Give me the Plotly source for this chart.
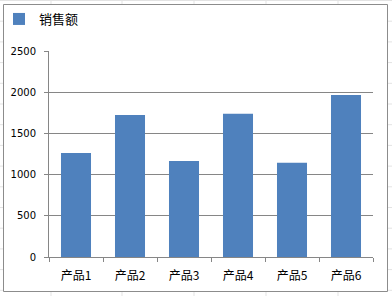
import plotly.graph_objects as go

categories = ["产品1", "产品2", "产品3", "产品4", "产品5", "产品6"]
sales = [1262, 1724, 1166, 1738, 1143, 1966]
series_name = "销售额"
y_ticks = [0, 500, 1000, 1500, 2000, 2500]

fig = go.Figure()
fig.add_trace(go.Bar(x=categories, y=sales, name=series_name,
                     marker=dict(color="#4F81BD", line=dict(width=0))))

# plot area in px: x 49..373, y 51..257
L, R, T, B = 49, 373, 51, 257
W, H = R - L, B - T
def px(x):
    return (x - L) / W
def py(y):
    return (B - y) / H

shapes = []
grid_col = "#E3E3E3"
for gx in [51, 122, 194, 266, 338]:
    shapes.append(dict(type="line", xref="paper", yref="paper", x0=px(gx), x1=px(gx),
                       y0=py(0), y1=py(296), line=dict(color=grid_col, width=1), layer="below"))
r = 0.5
while r < 296:
    shapes.append(dict(type="line", xref="paper", yref="paper", x0=px(0), x1=px(392),
                       y0=py(r), y1=py(r), line=dict(color=grid_col, width=1), layer="below"))
    r += 20.7
shapes.append(dict(type="rect", xref="paper", yref="paper", x0=px(3.5), x1=px(387.5),
                   y0=py(291.5), y1=py(4.5), fillcolor="white",
                   line=dict(color="#8C8C8C", width=1), layer="below"))

fig.update_layout(
    width=392, height=296,
    margin=dict(l=L, r=392 - R, t=T, b=296 - B, autoexpand=False),
    paper_bgcolor="white", plot_bgcolor="rgba(0,0,0,0)",
    bargap=0.444,
    showlegend=True,
    legend=dict(x=px(-1), y=py(19), xanchor="left", yanchor="middle",
                font=dict(family="Noto Sans CJK SC", size=13, color="#000000"),
                bgcolor="rgba(0,0,0,0)"),
    shapes=shapes,
    xaxis=dict(type="category", showline=True, linecolor="#868686", linewidth=1,
               ticks="outside", ticklen=4, tickcolor="#868686", tickson="boundaries",
               showgrid=False, ticklabelstandoff=8,
               tickfont=dict(family="Noto Sans CJK SC", size=12, color="#000000")),
    yaxis=dict(range=[0, 2500], tickvals=y_ticks, showline=True, linecolor="#868686",
               linewidth=1, ticks="outside", ticklen=4, tickcolor="#868686",
               showgrid=True, gridcolor="#868686", gridwidth=1, zeroline=False,
               ticklabelstandoff=6,
               tickfont=dict(family="DejaVu Sans", size=10, color="#000000")),
)

fig.write_html("out.html")
